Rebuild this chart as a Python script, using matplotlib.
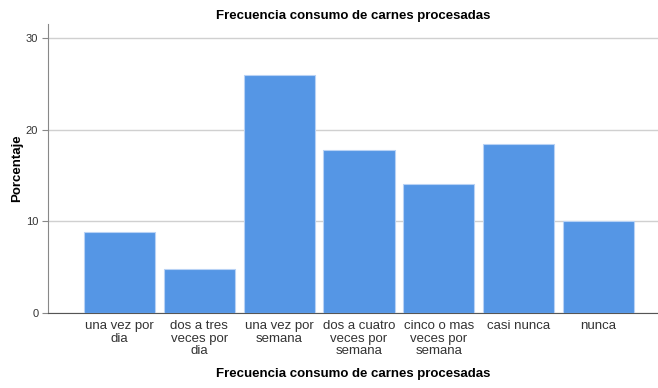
import matplotlib
matplotlib.use("Agg")
import matplotlib.pyplot as plt
import numpy as np

plt.rcParams['font.family'] = ['Liberation Sans', 'DejaVu Sans']

# data
categories = ['una vez por\ndia', 'dos a tres\nveces por\ndia', 'una vez por\nsemana',
              'dos a cuatro\nveces por\nsemana', 'cinco o mas\nveces por\nsemana',
              'casi nunca', 'nunca']
percent = [8.8, 4.8, 26.0, 17.8, 14.1, 18.4, 10.0]
yticks = [0, 10, 20, 30]

fig = plt.figure(figsize=(6.58, 3.88), dpi=100)
ax = fig.add_axes([0.073, 0.193, 0.927, 0.745])

x = np.arange(len(categories))
ax.bar(x, percent, width=0.89, color='#5596e5', edgecolor='#b8d2f5', linewidth=0.8, zorder=3)

ax.set_xlim(-0.894, 6.744)
ax.set_ylim(0, 31.5)
ax.set_yticks(yticks)
ax.yaxis.grid(True, color='#d0d0d0', linewidth=1, zorder=0)
ax.set_xticks(x)
ax.set_xticklabels(categories, fontsize=9.5, color='#333333', linespacing=1.05)
ax.tick_params(axis='x', length=0, pad=5)
ax.tick_params(axis='y', length=4, color='#888888', labelsize=8, labelcolor='#333333', pad=3)

for s in ['top', 'right']:
    ax.spines[s].set_visible(False)
ax.spines['left'].set_color('#888888')
ax.spines['bottom'].set_color('#555555')

ax.set_title('Frecuencia consumo de carnes procesadas', fontsize=9.5, fontweight='bold', pad=4)
ax.set_ylabel('Porcentaje', fontsize=9.5, fontweight='bold', labelpad=2)
ax.set_xlabel('Frecuencia consumo de carnes procesadas', fontsize=9.5, fontweight='bold', labelpad=8)

fig.savefig('out.png', dpi=100)
